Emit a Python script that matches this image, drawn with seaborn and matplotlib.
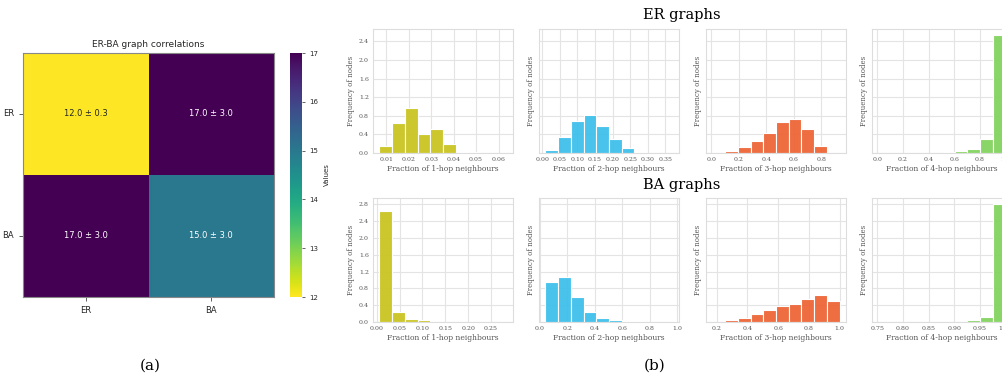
import numpy as np
import pandas as pd
import seaborn as sns
import matplotlib.pyplot as plt
from matplotlib.ticker import FormatStrFormatter, MultipleLocator

# heatmap data
graph_types = ["ER", "BA"]
corr_mean = [[12.0, 17.0], [17.0, 15.0]]
corr_std = [[0.3, 3.0], [3.0, 3.0]]

# histogram data (10 bins per panel, heights)
er_1hop = [0.16, 0.65, 0.97, 0.41, 0.52, 0.19, 0.03, 0.02, 0.005, 0.003]
er_2hop = [0.07, 0.35, 0.69, 0.81, 0.59, 0.31, 0.11, 0.02, 0.005, 0.002]
er_3hop = [0.005, 0.04, 0.12, 0.25, 0.44, 0.66, 0.73, 0.52, 0.16, 0.003]
er_4hop = [0.002, 0.002, 0.003, 0.004, 0.008, 0.02, 0.035, 0.08, 0.30, 2.54]
ba_1hop = [2.65, 0.23, 0.07, 0.05, 0.01, 0.005, 0.003, 0.002, 0.001, 0.001]
ba_2hop = [0.94, 1.06, 0.59, 0.23, 0.10, 0.05, 0.03, 0.02, 0.01, 0.005]
ba_3hop = [0.005, 0.04, 0.10, 0.18, 0.28, 0.37, 0.43, 0.55, 0.64, 0.49]
ba_4hop = [0.001, 0.001, 0.001, 0.002, 0.002, 0.003, 0.005, 0.05, 0.13, 2.81]

# bin range of each panel
er_ranges = [(0.0069, 0.0636), (0.0086, 0.371), (0.007, 0.932), (0.008, 1.0)]
ba_ranges = [(0.0058, 0.284), (0.039, 0.966), (0.173, 1.0), (0.752, 1.0)]

er_ticks = [[0.01, 0.02, 0.03, 0.04, 0.05, 0.06],
            [0.0, 0.05, 0.10, 0.15, 0.20, 0.25, 0.30, 0.35],
            [0.0, 0.2, 0.4, 0.6, 0.8],
            [0.0, 0.2, 0.4, 0.6, 0.8, 1.0]]
ba_ticks = [[0.0, 0.05, 0.10, 0.15, 0.20, 0.25],
            [0.0, 0.2, 0.4, 0.6, 0.8, 1.0],
            [0.2, 0.4, 0.6, 0.8, 1.0],
            [0.75, 0.80, 0.85, 0.90, 0.95, 1.00]]
er_fmt = ["%.2f", "%.2f", "%.1f", "%.1f"]
ba_fmt = ["%.2f", "%.1f", "%.1f", "%.2f"]

hop_colors = ["#cbc423", "#3fc0ea", "#ee6537", "#84d35f"]

W, H = 1002, 381
fig = plt.figure(figsize=(W / 100, H / 100), dpi=100)


def box(left, top, width, height):
    return [left / W, (H - top - height) / H, width / W, height / H]


# ---- (a) heatmap ----
with sns.axes_style("ticks"):
    ax_h = fig.add_axes(box(23, 53, 251, 244))
    cax = fig.add_axes(box(290, 53, 12, 244))

mean_df = pd.DataFrame(corr_mean, index=graph_types, columns=graph_types)
annot = np.array([[f"{m:.1f} ± {s:.1f}" for m, s in zip(rm, rs)]
                  for rm, rs in zip(corr_mean, corr_std)])
sns.heatmap(mean_df, annot=annot, fmt="", cmap="viridis_r", ax=ax_h, cbar_ax=cax,
            annot_kws={"fontsize": 6}, cbar_kws={"label": "Values"})
ax_h.set_title("ER-BA graph correlations", fontsize=6.5, pad=4)
ax_h.tick_params(labelsize=6, length=3, width=0.6, color="#444444")
ax_h.set_yticklabels(graph_types, rotation=0)
for sp in ax_h.spines.values():
    sp.set_visible(True)
    sp.set_color("#888888")
    sp.set_linewidth(0.8)
cax.tick_params(labelsize=5, length=2, width=0.5)
cax.yaxis.label.set_size(5)
cax.yaxis.set_major_locator(MultipleLocator(1))

# ---- (b) histograms ----
rows = [
    ([er_1hop, er_2hop, er_3hop, er_4hop], er_ranges, er_ticks, er_fmt, 29),
    ([ba_1hop, ba_2hop, ba_3hop, ba_4hop], ba_ranges, ba_ticks, ba_fmt, 198),
]
col_lefts = [373, 539, 706, 872]

with sns.axes_style("whitegrid", {"grid.color": "#e4e4e4", "axes.edgecolor": "#dddddd"}):
    for heights_row, ranges, ticks, fmts, top in rows:
        first = None
        for i, (hts, (lo, hi)) in enumerate(zip(heights_row, ranges)):
            ax = fig.add_axes(box(col_lefts[i], top, 140, 124), sharey=first)
            if first is None:
                first = ax
            edges = np.linspace(lo, hi, len(hts) + 1)
            df = pd.DataFrame({"x": (edges[:-1] + edges[1:]) / 2, "w": hts})
            sns.histplot(data=df, x="x", weights="w", bins=list(edges), ax=ax,
                         color=hop_colors[i], alpha=0.95, edgecolor="white", linewidth=0.8)
            ax.set_xticks(ticks[i])
            ax.xaxis.set_major_formatter(FormatStrFormatter(fmts[i]))
            ax.yaxis.set_major_locator(MultipleLocator(0.4))
            ax.yaxis.set_major_formatter(FormatStrFormatter("%.1f"))
            ax.set_xlabel(f"Fraction of {i + 1}-hop neighbours", fontsize=5.5,
                          family="DejaVu Serif", color="#555555", labelpad=2)
            ax.set_ylabel("Frequency of nodes", fontsize=5, family="DejaVu Serif",
                          color="#555555", labelpad=3)
            ax.tick_params(labelsize=4.5, labelfontfamily="DejaVu Serif",
                           labelcolor="#555555", length=0, pad=3)
            ax.grid(True, linewidth=0.8)
            for sp in ax.spines.values():
                sp.set_linewidth(0.8)
            if i > 0:
                ax.tick_params(labelleft=False)

fig.text(682 / W, (H - 15) / H, "ER graphs", ha="center", va="center",
         fontsize=10.5, family="DejaVu Serif")
fig.text(682 / W, (H - 185) / H, "BA graphs", ha="center", va="center",
         fontsize=10.5, family="DejaVu Serif")

fig.text(150 / W, (H - 366) / H, "(a)", ha="center", va="center",
         fontsize=11, family="DejaVu Serif")
fig.text(655 / W, (H - 366) / H, "(b)", ha="center", va="center",
         fontsize=11, family="DejaVu Serif")

fig.savefig("out.png", dpi=100, facecolor="white")
